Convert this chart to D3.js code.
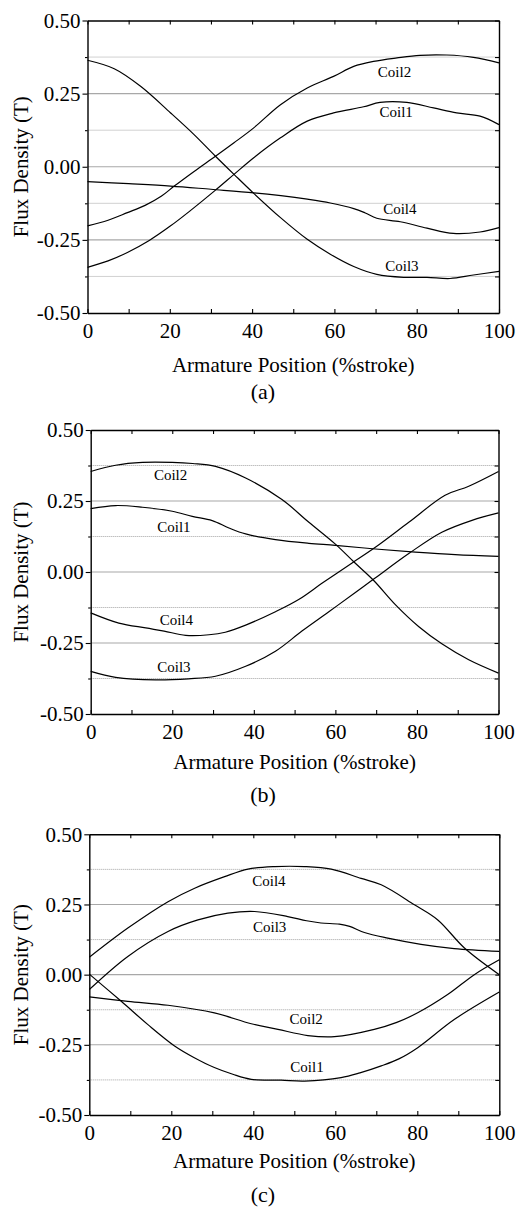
<!DOCTYPE html>
<html>
<head>
<meta charset="utf-8">
<script src="https://cdn.jsdelivr.net/npm/d3@7"></script>
<style>
  body { margin: 0; background: #fff; }
</style>
</head>
<body>
<div id="chart"></div>
<script>
const FONT = "'Liberation Serif', Tinos, 'Times New Roman', 'DejaVu Serif', serif";

// tick values shared by the three panels
const xTicks = [0, 10, 20, 30, 40, 50, 60, 70, 80, 90, 100];
const yTicks = [-0.5, -0.375, -0.25, -0.125, 0, 0.125, 0.25, 0.375, 0.5];
const coilNames = ["Coil1", "Coil2", "Coil3", "Coil4"];
const captions = ["(a)", "(b)", "(c)"];

// [position %stroke, flux density T]
// panel (a)
const coil1A = [[0,-0.344],[5,-0.322],[9.7,-0.293],[15,-0.252],[20.2,-0.202],[25,-0.150],[31.1,-0.080],[35.6,-0.026],[40.4,0.031],[46.9,0.099],[53.4,0.156],[59.8,0.184],[67.1,0.205],[71.1,0.220],[77.6,0.220],[84.1,0.201],[89.7,0.184],[95.4,0.173],[100,0.144]];
const coil2A = [[0,-0.202],[5,-0.183],[9.7,-0.157],[14,-0.132],[18,-0.100],[21,-0.067],[25.9,-0.016],[31.1,0.036],[35.6,0.082],[40.4,0.133],[46.9,0.212],[53.4,0.269],[59.8,0.309],[64.7,0.343],[69.5,0.360],[75.2,0.372],[80.8,0.381],[87.3,0.382],[93.8,0.374],[100,0.355]];
const coil3A = [[0,0.364],[6.5,0.335],[12.9,0.275],[20.2,0.184],[25.9,0.110],[31.1,0.036],[35.6,-0.026],[40.4,-0.091],[46.9,-0.174],[53.4,-0.248],[59,-0.299],[64.7,-0.341],[70.3,-0.368],[76.8,-0.378],[82.5,-0.378],[88.1,-0.382],[93.8,-0.370],[100,-0.358]];
const coil4A = [[0,-0.051],[10,-0.058],[20.2,-0.066],[30,-0.077],[40.4,-0.089],[47,-0.099],[53.4,-0.111],[59,-0.124],[64.7,-0.143],[67.5,-0.158],[70.3,-0.176],[76,-0.188],[82.5,-0.210],[88.9,-0.228],[95.4,-0.223],[100,-0.208]];
// panel (b)
const coil1B = [[0,0.223],[6.1,0.234],[12.7,0.228],[20,0.214],[24.9,0.196],[29.8,0.181],[33.9,0.155],[38,0.134],[45.3,0.114],[53.5,0.101],[60,0.094],[69.8,0.081],[79.6,0.070],[89.4,0.061],[100,0.055]];
const coil2B = [[0,0.354],[6.1,0.376],[12.7,0.386],[20,0.386],[25,0.382],[30.6,0.372],[38,0.331],[46.9,0.255],[53.5,0.175],[60,0.098],[64.5,0.036],[69.4,-0.030],[74.7,-0.115],[80.4,-0.192],[86.1,-0.253],[92.7,-0.309],[100,-0.356]];
const coil3B = [[0,-0.350],[6.1,-0.371],[15.9,-0.380],[24,-0.376],[30.6,-0.367],[38,-0.332],[45.3,-0.279],[51.8,-0.208],[58.4,-0.140],[64.9,-0.072],[69.4,-0.025],[78,0.065],[86.1,0.140],[93.5,0.182],[100,0.208]];
const coil4B = [[0,-0.144],[6.9,-0.180],[13.5,-0.197],[18,-0.208],[23.3,-0.223],[29,-0.221],[33,-0.212],[38,-0.187],[45.3,-0.140],[51,-0.097],[56.7,-0.040],[64.1,0.032],[69.8,0.087],[78,0.175],[86.9,0.270],[92.7,0.302],[100,0.354]];
// panel (c)
const coil1C = [[0,0.002],[7.8,-0.095],[14.3,-0.178],[20.8,-0.254],[25.5,-0.295],[30.5,-0.331],[35,-0.355],[39.5,-0.373],[46.8,-0.376],[52.5,-0.379],[61.4,-0.367],[66,-0.350],[71.2,-0.325],[75.5,-0.300],[80.1,-0.260],[89,-0.160],[100,-0.062]];
const coil2C = [[0,-0.079],[9.4,-0.095],[19.2,-0.109],[30.5,-0.136],[39.5,-0.175],[46,-0.195],[53.3,-0.217],[59.8,-0.221],[69.5,-0.195],[75,-0.170],[80.1,-0.136],[87.4,-0.071],[93.9,0],[100,0.053]];
const coil3C = [[0,-0.053],[9.4,0.065],[19.2,0.154],[26.5,0.195],[33.8,0.219],[40.3,0.225],[48.4,0.207],[53,0.192],[56.5,0.184],[61,0.180],[63.5,0.172],[67.1,0.150],[72.8,0.130],[80.9,0.108],[89,0.093],[100,0.083]];
const coil4C = [[0,0.062],[9.4,0.166],[19.2,0.260],[25.7,0.308],[33,0.349],[38.7,0.376],[45.2,0.385],[52.5,0.385],[59,0.376],[66.3,0.343],[71.2,0.320],[79.3,0.249],[85,0.195],[91.5,0.095],[100,0]];

// where the coil names sit, in data units
const labelsA = [[75.0,0.188],[74.6,0.325],[76.4,-0.337],[75.9,-0.145]];
const labelsB = [[20.4,0.158],[19.6,0.343],[20.4,-0.332],[21.0,-0.168]];
const labelsC = [[53.1,-0.329],[52.9,-0.157],[44.0,0.172],[43.8,0.336]];

const panelData = [
  { series: [coil1A, coil2A, coil3A, coil4A], labels: labelsA },
  { series: [coil1B, coil2B, coil3B, coil4B], labels: labelsB },
  { series: [coil1C, coil2C, coil3C, coil4C], labels: labelsC },
];

// panel boxes in page pixels
const boxes = [
  { left: 87.5, right: 499, top: 20.5, bottom: 313, titleDy: 59, capY: 399 },
  { left: 90.7, right: 498.5, top: 430, bottom: 714, titleDy: 55, capY: 802 },
  { left: 89.3, right: 499.3, top: 834.3, bottom: 1115, titleDy: 53, capY: 1202 },
];

const svg = d3.select("#chart").append("svg")
  .attr("width", 519)
  .attr("height", 1207);

svg.append("rect").attr("width", 519).attr("height", 1207).attr("fill", "#fff");

boxes.forEach((b, i) => {
  const width = b.right - b.left;
  const height = b.bottom - b.top;
  const g = svg.append("g").attr("transform", `translate(${b.left},${b.top})`);

  const xScale = d3.scaleLinear().domain([0, 100]).range([0, width]);
  const yScale = d3.scaleLinear().domain([-0.5, 0.5]).range([height, 0]);
  const isMajor = v => Math.abs(Math.round(v * 4) - v * 4) < 1e-6;

  // grid: solid at the labelled values, dotted in between
  g.selectAll(".grid")
    .data(yTicks.filter(v => Math.abs(v) < 0.5))
    .enter().append("line")
    .attr("x1", 0).attr("x2", width)
    .attr("y1", d => yScale(d)).attr("y2", d => yScale(d))
    .attr("stroke", d => isMajor(d) ? "#a8a8a8" : "#8c8c8c")
    .attr("stroke-width", d => isMajor(d) ? 1.1 : 0.8)
    .attr("stroke-dasharray", d => isMajor(d) ? null : "1,1");

  // curves
  const line = d3.line()
    .x(d => xScale(d[0]))
    .y(d => yScale(d[1]))
    .curve(d3.curveCatmullRom.alpha(0.5));

  g.selectAll(".coil")
    .data(panelData[i].series)
    .enter().append("path")
    .attr("d", line)
    .attr("fill", "none")
    .attr("stroke", "#000")
    .attr("stroke-width", 1.2);

  g.selectAll(".coil-label")
    .data(panelData[i].labels)
    .enter().append("text")
    .attr("x", d => xScale(d[0]))
    .attr("y", d => yScale(d[1]))
    .attr("dy", "0.35em")
    .attr("text-anchor", "middle")
    .style("font-family", FONT)
    .style("font-size", "15px")
    .text((d, k) => coilNames[k]);

  // axes
  const bottomAxis = g.append("g")
    .call(d3.axisBottom(xScale).tickValues(xTicks).tickSizeInner(-4).tickSizeOuter(0)
      .tickFormat(d => d % 20 === 0 ? d : ""))
    .attr("transform", `translate(0,${height})`);
  bottomAxis.selectAll("text").attr("y", 25).attr("dy", null);

  g.append("g")
    .call(d3.axisTop(xScale).tickValues(xTicks).tickSizeInner(-4).tickSizeOuter(0).tickFormat(""));

  const leftAxis = g.append("g")
    .call(d3.axisLeft(yScale).tickValues(yTicks).tickSizeInner(5).tickSizeOuter(0)
      .tickFormat(d => isMajor(d) ? d.toFixed(2) : ""));
  leftAxis.selectAll(".tick line").attr("x2", d => isMajor(d) ? -5 : -2.5);
  leftAxis.selectAll("text").attr("x", -7);

  g.append("g")
    .attr("transform", `translate(${width},0)`)
    .call(d3.axisRight(yScale).tickValues(yTicks).tickSizeInner(-4).tickSizeOuter(0).tickFormat(""));

  g.selectAll(".tick text").style("font-family", FONT).style("font-size", "21px").attr("fill", "#000");
  g.selectAll(".domain").attr("stroke", "#000").attr("stroke-width", 1.4);
  g.selectAll(".tick line").attr("stroke", "#000").attr("stroke-width", 1.1);

  // titles
  g.append("text")
    .attr("x", width / 2)
    .attr("y", height + b.titleDy)
    .attr("text-anchor", "middle")
    .style("font-family", FONT)
    .style("font-size", "21px")
    .text("Armature Position (%stroke)");

  svg.append("text")
    .attr("transform", `translate(28,${(b.top + b.bottom) / 2}) rotate(-90)`)
    .attr("text-anchor", "middle")
    .style("font-family", FONT)
    .style("font-size", "21px")
    .text("Flux Density (T)");

  svg.append("text")
    .attr("x", 263)
    .attr("y", b.capY)
    .attr("text-anchor", "middle")
    .style("font-family", FONT)
    .style("font-size", "22px")
    .text(captions[i]);
});
</script>
</body>
</html>
